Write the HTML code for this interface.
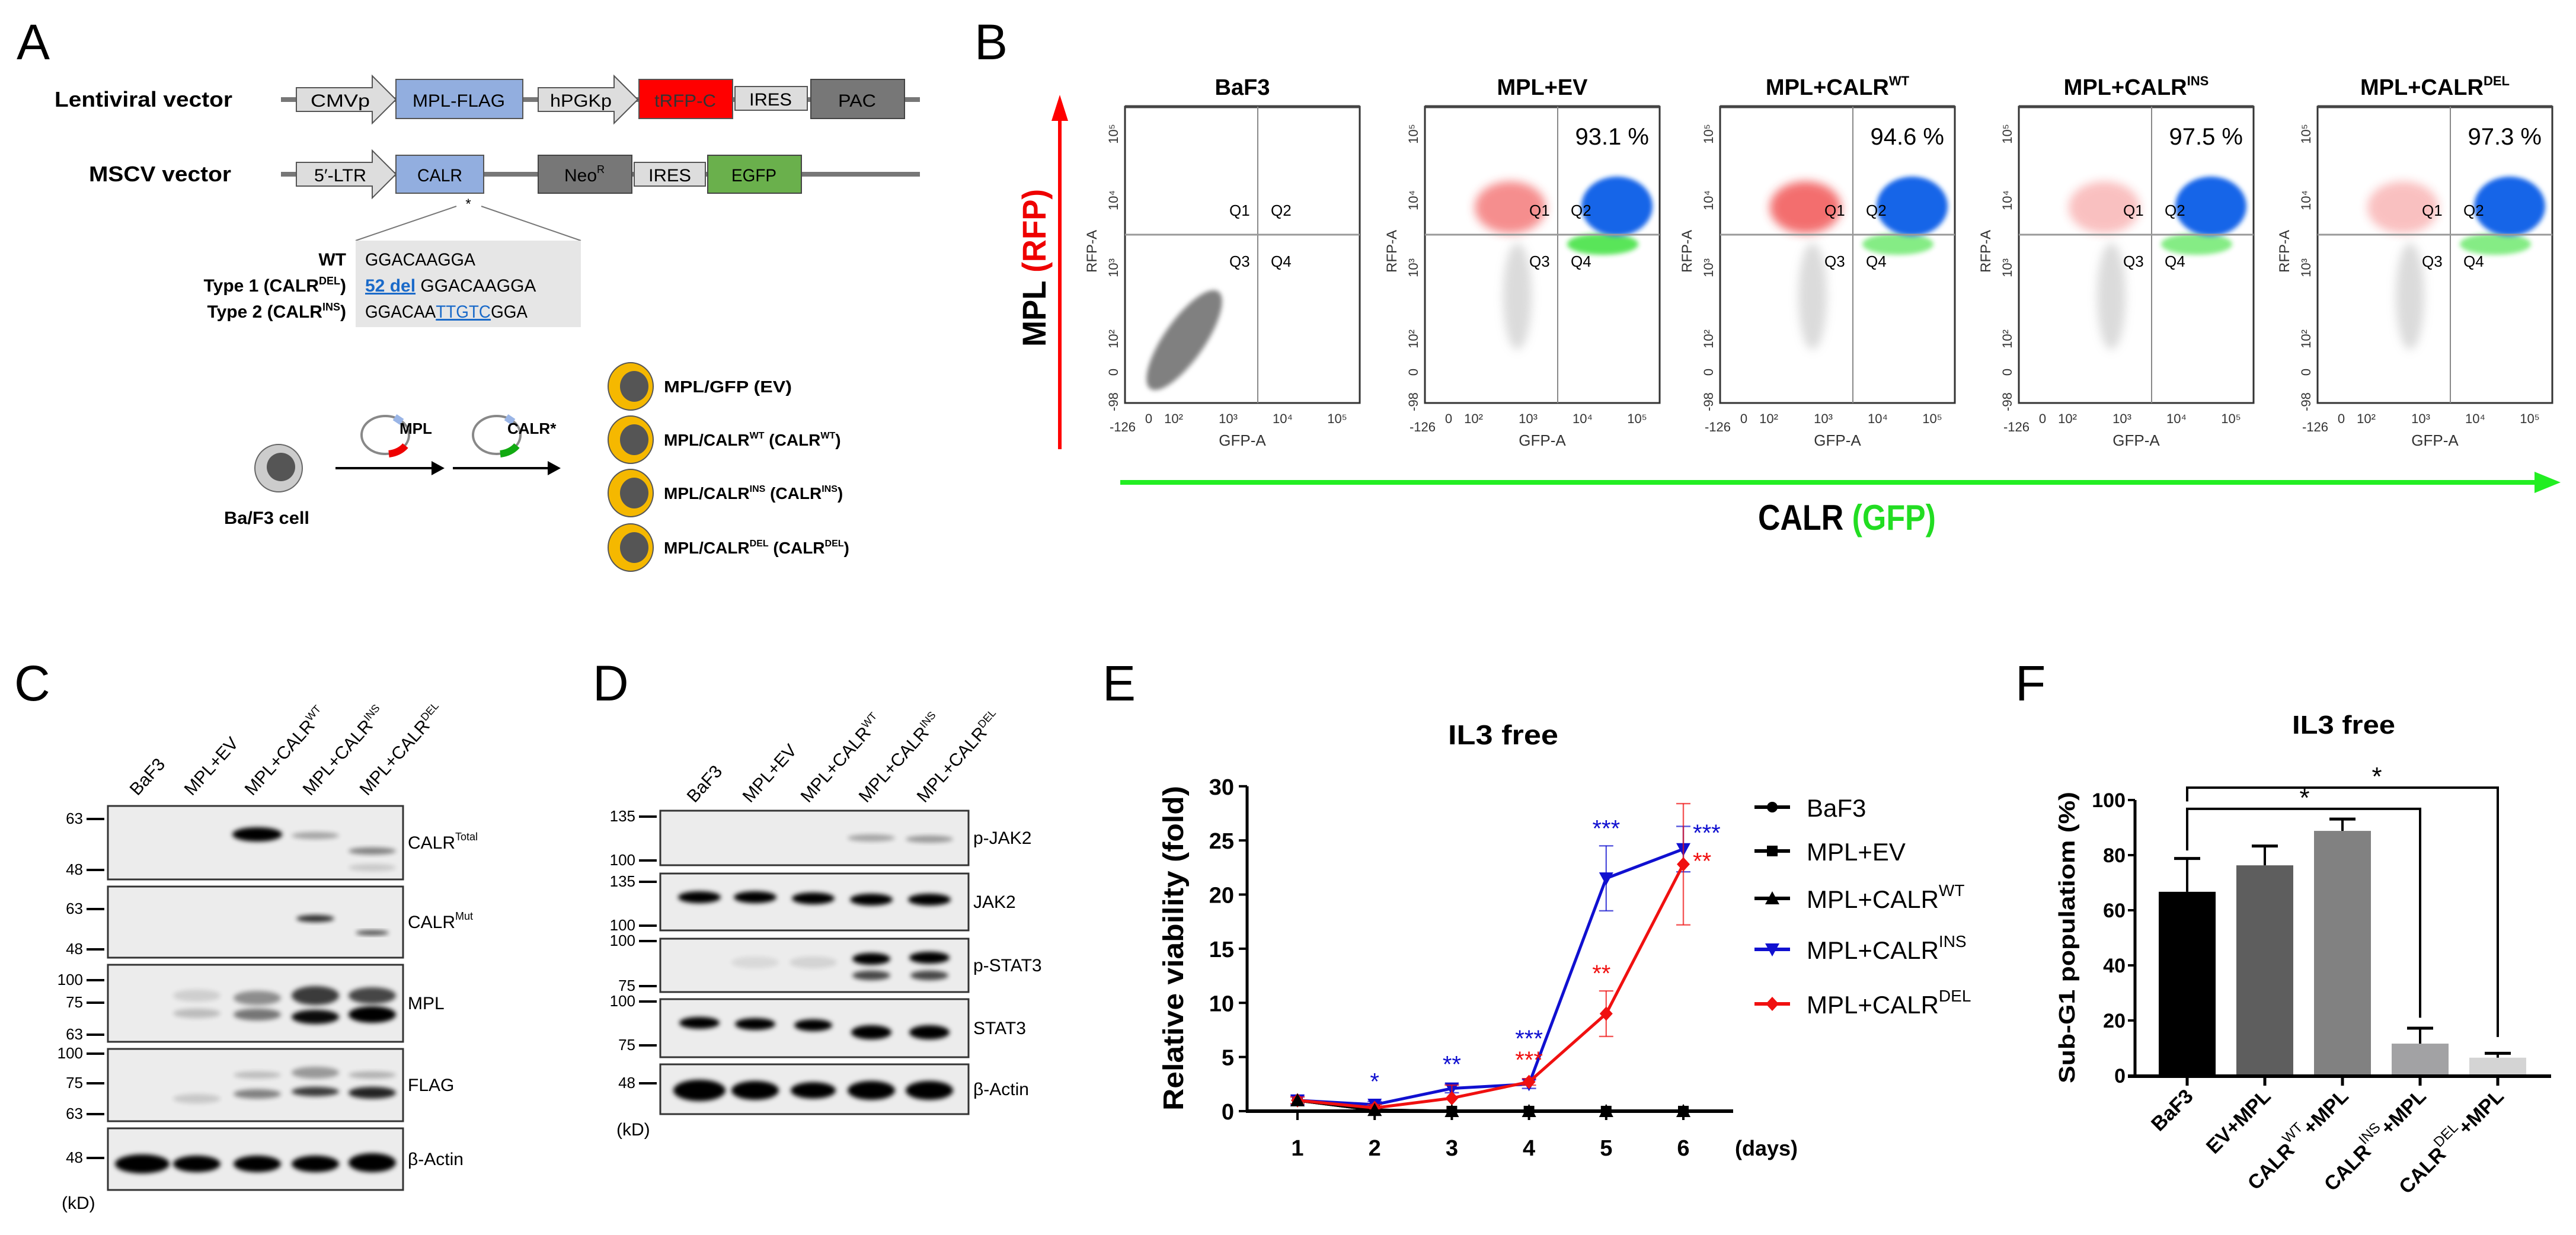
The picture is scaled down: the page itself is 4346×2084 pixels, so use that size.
<!DOCTYPE html>
<html><head><meta charset="utf-8"><style>
html,body{margin:0;padding:0;background:#fff}
svg{display:block}
text{font-family:"Liberation Sans",sans-serif}
</style></head><body>
<svg id="fig" width="4346" height="2084" viewBox="0 0 2173 1042" xmlns="http://www.w3.org/2000/svg">
<defs>
<filter id="blur1" x="-50%" y="-50%" width="200%" height="200%"><feGaussianBlur stdDeviation="2"/></filter>
<filter id="blur2" x="-50%" y="-50%" width="200%" height="200%"><feGaussianBlur stdDeviation="4"/></filter>
</defs>

<!-- PANEL A -->
<g>
<text x="14" y="50" font-size="42">A</text>
<text x="46" y="90" font-size="18" font-weight="bold" textLength="150" lengthAdjust="spacingAndGlyphs">Lentiviral vector</text>
<text x="75" y="153" font-size="18" font-weight="bold" textLength="120" lengthAdjust="spacingAndGlyphs">MSCV vector</text>
<g font-size="15" text-anchor="middle">
<line x1="237" y1="84" x2="776" y2="84" stroke="#777" stroke-width="4"/>
<path d="M250,74 H314 V64 L334,84 L314,104 V94 H250z" fill="#ddd" stroke="#555"/><text x="287" y="90" textLength="50" lengthAdjust="spacingAndGlyphs">CMVp</text>
<rect x="334" y="67" width="107" height="33" fill="#92aedf" stroke="#555"/><text x="387" y="90" textLength="78" lengthAdjust="spacingAndGlyphs">MPL-FLAG</text>
<path d="M454,74 H518 V64 L538,84 L518,104 V94 H454z" fill="#ddd" stroke="#555"/><text x="490" y="90" textLength="52" lengthAdjust="spacingAndGlyphs">hPGKp</text>
<rect x="539" y="67" width="79" height="33" fill="#f00" stroke="#555"/><text x="578" y="90" fill="#333" textLength="52" lengthAdjust="spacingAndGlyphs">tRFP-C</text>
<rect x="620" y="73" width="61" height="20" fill="#ddd" stroke="#555"/><text x="650" y="89" textLength="36" lengthAdjust="spacingAndGlyphs">IRES</text>
<rect x="684" y="67" width="79" height="33" fill="#777" stroke="#444"/><text x="723" y="90" textLength="32" lengthAdjust="spacingAndGlyphs">PAC</text>
</g>
<g font-size="15" text-anchor="middle">
<line x1="237" y1="147" x2="776" y2="147" stroke="#777" stroke-width="4"/>
<path d="M250,137 H314 V127 L334,147 L314,167 V157 H250z" fill="#ddd" stroke="#555"/><text x="287" y="153" textLength="44" lengthAdjust="spacingAndGlyphs">5′-LTR</text>
<rect x="334" y="131" width="74" height="32" fill="#92aedf" stroke="#555"/><text x="371" y="153" textLength="38" lengthAdjust="spacingAndGlyphs">CALR</text>
<rect x="454" y="131" width="79" height="32" fill="#777" stroke="#444"/><text x="493" y="153">Neo<tspan font-size="9" dy="-7">R</tspan></text>
<rect x="535" y="137" width="60" height="20" fill="#ddd" stroke="#555"/><text x="565" y="153" textLength="36" lengthAdjust="spacingAndGlyphs">IRES</text>
<rect x="597" y="131" width="79" height="32" fill="#6ab04c" stroke="#444"/><text x="636" y="153" textLength="38" lengthAdjust="spacingAndGlyphs">EGFP</text>
<text x="395" y="176" font-size="12">*</text>
<line x1="385" y1="174" x2="300" y2="203" stroke="#777"/><line x1="406" y1="174" x2="490" y2="203" stroke="#777"/>
</g>
<g font-size="15">
<rect x="300" y="203" width="190" height="73" fill="#e6e6e6"/>
<text x="292" y="224" text-anchor="end" font-weight="bold">WT</text><text x="308" y="224" textLength="93" lengthAdjust="spacingAndGlyphs">GGACAAGGA</text>
<text x="292" y="246" text-anchor="end" font-weight="bold">Type 1 (CALR<tspan font-size="9" dy="-6">DEL</tspan><tspan dy="6">)</tspan></text>
<text x="308" y="246"><tspan fill="#1a6ac9" font-weight="bold" text-decoration="underline">52 del</tspan> GGACAAGGA</text>
<text x="292" y="268" text-anchor="end" font-weight="bold">Type 2 (CALR<tspan font-size="9" dy="-6">INS</tspan><tspan dy="6">)</tspan></text>
<text x="308" y="268" textLength="137" lengthAdjust="spacingAndGlyphs">GGACAA<tspan fill="#1a6ac9" text-decoration="underline">TTGTC</tspan>GGA</text>
</g>
<g>
<ellipse cx="235" cy="395" rx="20" ry="20" fill="#ccc" stroke="#666"/><ellipse cx="237" cy="394" rx="12" ry="12" fill="#555"/>
<text x="225" y="442" font-size="15" font-weight="bold" text-anchor="middle" textLength="72" lengthAdjust="spacingAndGlyphs">Ba/F3 cell</text>
<line x1="283" y1="395" x2="366" y2="395" stroke="#000" stroke-width="2"/><path d="M364,389 L375,395 L364,401z"/>
<line x1="382" y1="395" x2="464" y2="395" stroke="#000" stroke-width="2"/><path d="M462,389 L473,395 L462,401z"/>
<ellipse cx="325" cy="367" rx="20" ry="16" fill="none" stroke="#888" stroke-width="2"/><path d="M328,383 a20,16 0 0,0 14,-7" stroke="#e00" stroke-width="6" fill="none"/><path d="M333,352 l6,4" stroke="#9ab5e6" stroke-width="6"/>
<text x="337" y="366" font-size="13" font-weight="bold">MPL</text>
<ellipse cx="419" cy="367" rx="20" ry="16" fill="none" stroke="#888" stroke-width="2"/><path d="M422,383 a20,16 0 0,0 14,-7" stroke="#1a1" stroke-width="6" fill="none"/><path d="M427,352 l6,4" stroke="#9ab5e6" stroke-width="6"/>
<text x="428" y="366" font-size="13" font-weight="bold">CALR*</text>
</g>
<g font-size="14" font-weight="bold">
<g><ellipse cx="532" cy="326" rx="19" ry="20" fill="#f5b800" stroke="#555"/><ellipse cx="535" cy="326" rx="12" ry="13" fill="#555"/><text x="560" y="331" textLength="108" lengthAdjust="spacingAndGlyphs">MPL/GFP   (EV)</text></g>
<g><ellipse cx="532" cy="371" rx="19" ry="20" fill="#f5b800" stroke="#555"/><ellipse cx="535" cy="371" rx="12" ry="13" fill="#555"/><text x="560" y="376">MPL/CALR<tspan font-size="8" dy="-6">WT</tspan><tspan dy="6"> (CALR</tspan><tspan font-size="8" dy="-6">WT</tspan><tspan dy="6">)</tspan></text></g>
<g><ellipse cx="532" cy="416" rx="19" ry="20" fill="#f5b800" stroke="#555"/><ellipse cx="535" cy="416" rx="12" ry="13" fill="#555"/><text x="560" y="421">MPL/CALR<tspan font-size="8" dy="-6">INS</tspan><tspan dy="6"> (CALR</tspan><tspan font-size="8" dy="-6">INS</tspan><tspan dy="6">)</tspan></text></g>
<g><ellipse cx="532" cy="462" rx="19" ry="20" fill="#f5b800" stroke="#555"/><ellipse cx="535" cy="462" rx="12" ry="13" fill="#555"/><text x="560" y="467">MPL/CALR<tspan font-size="8" dy="-6">DEL</tspan><tspan dy="6"> (CALR</tspan><tspan font-size="8" dy="-6">DEL</tspan><tspan dy="6">)</tspan></text></g>
</g>
</g>

<!-- PANEL B -->
<g>
<text x="822" y="50" font-size="42">B</text>
<line x1="894" y1="379" x2="894" y2="100" stroke="#f00" stroke-width="3"/>
<path d="M887,102 L894,80 L901,102z" fill="#f00"/>
<text transform="translate(882,226) rotate(-90)" font-size="28" font-weight="bold" text-anchor="middle" textLength="133" lengthAdjust="spacingAndGlyphs">MPL <tspan fill="#e00">(RFP)</tspan></text>
<line x1="945" y1="407" x2="2140" y2="407" stroke="#2e2" stroke-width="4"/>
<path d="M2138,398 L2160,407 L2138,416z" fill="#2e2"/>
<text x="1558" y="447" font-size="30" font-weight="bold" text-anchor="middle" textLength="150" lengthAdjust="spacingAndGlyphs">CALR <tspan fill="#2d2">(GFP)</tspan></text>
<g id="flow"></g>
</g>

<!-- PANEL C -->
<g>
<text x="12" y="591" font-size="42">C</text>
<g id="blotC"></g>
</g>
<!-- PANEL D -->
<g>
<text x="500" y="591" font-size="42">D</text>
<g id="blotD"></g>
</g>

<!-- PANEL E -->
<g>
<text x="930" y="591" font-size="42">E</text>
<text x="1268" y="628" font-size="23" font-weight="bold" text-anchor="middle" textLength="93" lengthAdjust="spacingAndGlyphs">IL3 free</text>
<text transform="translate(998,800) rotate(-90)" font-size="24" font-weight="bold" text-anchor="middle" textLength="274" lengthAdjust="spacingAndGlyphs">Relative viability (fold)</text>
<g id="chartE"></g>
</g>

<!-- PANEL F -->
<g>
<text x="1700" y="591" font-size="42">F</text>
<text x="1977" y="619" font-size="22" font-weight="bold" text-anchor="middle" textLength="87" lengthAdjust="spacingAndGlyphs">IL3 free</text>
<text transform="translate(1750,791) rotate(-90)" font-size="19" font-weight="bold" text-anchor="middle" textLength="246" lengthAdjust="spacingAndGlyphs">Sub-G1 populatiom (%)</text>
<g id="chartF"></g>
</g>
</svg>
<script>
const NS="http://www.w3.org/2000/svg";
function mk(parent,tag,attrs,txt){const e=document.createElementNS(NS,tag);for(const k in attrs)e.setAttribute(k,attrs[k]);if(txt!==undefined)e.textContent=txt;parent.appendChild(e);return e;}

/* ---------- Panel B flow plots ---------- */
const flowTitles=["BaF3","MPL+EV","MPL+CALR","MPL+CALR","MPL+CALR"];
const flowSups=["","","WT","INS","DEL"];
const flowPct=["","93.1 %","94.6 %","97.5 %","97.3 %"];
const flowRedOpacity=[0,0.55,0.7,0.3,0.3];
const flowLeft=[949,1202,1451,1703,1955];
const flow=document.getElementById('flow');
flowLeft.forEach((x0,i)=>{
  const g=mk(flow,'g',{});
  
  
  const w=198,y0=90,h=250,qx=x0+112,qy=198;
  const t=mk(g,'text',{x:x0+w/2,y:80,'font-size':19,'font-weight':'bold','text-anchor':'middle'},flowTitles[i]);
  if(flowSups[i])mk(t,'tspan',{'font-size':11,dy:-8},flowSups[i]);
  if(i==0){
    mk(g,'ellipse',{cx:x0+50,cy:287,rx:50,ry:17,transform:`rotate(-55 ${x0+50} 287)`,fill:'#808080',filter:'url(#blur1)'});
  } else {
    mk(g,'ellipse',{cx:x0+72,cy:175,rx:30,ry:22,fill:'#e33',filter:'url(#blur2)',opacity:flowRedOpacity[i]});
    mk(g,'ellipse',{cx:x0+78,cy:250,rx:12,ry:45,fill:'#999',filter:'url(#blur2)',opacity:0.35});
    mk(g,'ellipse',{cx:x0+150,cy:206,rx:30,ry:9,fill:'#2d2',filter:'url(#blur1)',opacity:i==1?0.75:0.55});
    mk(g,'ellipse',{cx:x0+162,cy:174,rx:30,ry:25,fill:'#1565e8',filter:'url(#blur1)'});
    mk(g,'text',{x:x0+189,y:122,'font-size':20,'text-anchor':'end'},flowPct[i]);
  }
  mk(g,'rect',{x:x0,y:y0,width:w,height:h,fill:'none',stroke:'#333','stroke-width':1.5});
  mk(g,'line',{x1:x0,y1:y0,x2:x0+w,y2:y0,stroke:'#444','stroke-width':2.5});
  mk(g,'line',{x1:qx,y1:y0,x2:qx,y2:y0+h,stroke:'#888','stroke-width':1});
  mk(g,'line',{x1:x0,y1:qy,x2:x0+w,y2:qy,stroke:'#999','stroke-width':1.5});
  [['Q1',x0+88,182],['Q2',x0+123,182],['Q3',x0+88,225],['Q4',x0+123,225]].forEach(q=>mk(g,'text',{x:q[1],y:q[2],'font-size':13},q[0]));
  mk(g,'text',{transform:`translate(${x0-24},212) rotate(-90)`,'font-size':12,'text-anchor':'middle',fill:'#333'},'RFP-A');
  [['10⁵',113],['10⁴',169],['10³',226],['10²',286],['0',314],['-98',339]].forEach(t=>mk(g,'text',{transform:`translate(${x0-6},${t[1]}) rotate(-90)`,'font-size':11,'text-anchor':'middle',fill:'#333'},t[0]));
  [['-126',-2,364],['0',20,357],['10²',41,357],['10³',87,357],['10⁴',133,357],['10⁵',179,357]].forEach(t=>mk(g,'text',{x:x0+t[1],y:t[2],'font-size':11,'text-anchor':'middle',fill:'#333'},t[0]));
  mk(g,'text',{x:x0+99,y:376,'font-size':13,'text-anchor':'middle',fill:'#333'},'GFP-A');
});

/* ---------- Western blots ---------- */
function blot(gid,x0,x1,lanesX,labelY,rows,mwLabels,kd){
  const g=document.getElementById(gid);
  lanesX.forEach((lx,i)=>{
    const t=mk(g,'text',{transform:`translate(${lx-4},${labelY}) rotate(-48)`,'font-size':15},laneNames[i][0]);
    
    
    if(laneNames[i][1])mk(t,'tspan',{'font-size':9,dy:-6},laneNames[i][1]);
  });
  rows.forEach(r=>{
    const rg=mk(g,'g',{});
    
    
    mk(rg,'rect',{x:x0,y:r.y,width:x1-x0,height:r.h,fill:'#ececec'});
    r.bands.forEach(b=>{
      mk(rg,'ellipse',{cx:lanesX[b[0]],cy:r.y+b[1],rx:b[4]||20,ry:b[2],fill:'#000',opacity:b[3],filter:'url(#blur1)'});
    });
    mk(rg,'rect',{x:x0,y:r.y,width:x1-x0,height:r.h,fill:'none',stroke:'#333','stroke-width':1.5});
    const t=mk(rg,'text',{x:x1+4,y:r.y+r.h/2+5,'font-size':15},r.name);
    if(r.sup)mk(t,'tspan',{'font-size':9,dy:-7},r.sup);
  });
  mwLabels.forEach(m=>{mk(g,'text',{x:x0-21,y:m[1]+4,'font-size':13,'text-anchor':'end'},m[0]);mk(g,'line',{x1:x0-18,y1:m[1],x2:x0-3,y2:m[1],stroke:'#000','stroke-width':2});});
  mk(g,'text',{x:kd[0],y:kd[1],'font-size':15},'(kD)');
}
const laneNames=[["BaF3",""],["MPL+EV",""],["MPL+CALR","WT"],["MPL+CALR","INS"],["MPL+CALR","DEL"]];
blot('blotC',91,340,[120,166,217,266,314],672,[
 {name:'CALR',sup:'Total',y:680,h:62,bands:[[2,24,6,1,21],[3,25,3,0.3],[4,38,3,0.45],[4,52,3,0.15]]},
 {name:'CALR',sup:'Mut',y:748,h:60,bands:[[3,27,3,0.8,16],[4,39,2,0.7,14]]},
 {name:'MPL',sup:'',y:814,h:65,bands:[[1,26,5,0.12],[1,41,4,0.2],[2,28,6,0.4],[2,42,5,0.5],[3,26,8,0.75],[3,44,6,0.95],[4,26,7,0.7],[4,42,7,1]]},
 {name:'FLAG',sup:'',y:885,h:61,bands:[[1,42,4,0.15],[2,22,3,0.2],[2,38,4,0.45],[3,20,5,0.35],[3,36,4,0.75],[4,22,3,0.25],[4,37,5,0.85]]},
 {name:'β-Actin',sup:'',y:952,h:52,bands:[[0,30,8,1,23],[1,30,7,1,20],[2,30,7,1,20],[3,30,7,1,20],[4,29,8,1,20]]}
],[['63',691],['48',734],['63',767],['48',801],['100',827],['75',846],['63',873],['100',889],['75',914],['63',940],['48',977]],[52,1020]);
blot('blotD',557,817,[590,637,686,735,784],678,[
 {name:'p-JAK2',sup:'',y:684,h:46,bands:[[3,23,3,0.3],[4,24,3,0.35]]},
 {name:'JAK2',sup:'',y:737,h:48,bands:[[0,20,5,1,18],[1,20,5,1,18],[2,21,5,1,18],[3,22,5,1,18],[4,22,5,1,18]]},
 {name:'p-STAT3',sup:'',y:792,h:45,bands:[[1,20,5,0.08],[2,20,5,0.1],[3,17,5,1,16],[3,31,4,0.7,16],[4,16,5,1,17],[4,31,4,0.7,16]]},
 {name:'STAT3',sup:'',y:843,h:49,bands:[[0,20,5,1,17],[1,21,5,1,17],[2,22,5,1,16],[3,28,6,1,17],[4,28,6,1,17]]},
 {name:'β-Actin',sup:'',y:898,h:42,bands:[[0,22,9,1,22],[1,22,8,1,20],[2,22,7,1,19],[3,22,8,1,20],[4,22,8,1,20]]}
],[['135',689],['100',726],['135',744],['100',781],['100',794],['75',832],['100',845],['75',882],['48',914]],[520,958]);

/* ---------- Panel E line chart ---------- */
const days=[1,2,3,4,5,6];
const baf3=[1.0,0.1,0.0,0.0,0.0,0.0];
const mplEv=[1.0,0.1,0.0,0.0,0.0,0.0];
const calrWt=[1.0,0.1,0.0,0.0,0.0,0.0];
const calrIns=[1.0,0.6,2.1,2.5,21.5,24.2];
const calrInsErr=[0.4,0.3,0.4,0.4,3.0,2.1];
const calrDel=[1.0,0.3,1.2,2.7,9.0,22.8];
const calrDelErr=[0.3,0.3,1.2,0.3,2.1,5.6];
const yTicksE=[0,5,10,15,20,25,30];
const insStars=["","*","**","***","***","***"];
const delStars=["","","","***","**","**"];
const eg=document.getElementById('chartE');
const ex=d=>1094.5+65.1*(d-1), ey=v=>937.5-v*9.137;
yTicksE.forEach(v=>{mk(eg,'line',{x1:1045,y1:ey(v),x2:1052,y2:ey(v),stroke:'#000','stroke-width':2});mk(eg,'text',{x:1041,y:ey(v)+7,'font-size':19,'font-weight':'bold','text-anchor':'end'},v);});
days.forEach(d=>{mk(eg,'line',{x1:ex(d),y1:937,x2:ex(d),y2:945,stroke:'#000','stroke-width':2});mk(eg,'text',{x:ex(d),y:975,'font-size':19,'font-weight':'bold','text-anchor':'middle'},d);});
mk(eg,'text',{x:1490,y:975,'font-size':18,'font-weight':'bold','text-anchor':'middle'},'(days)');
function series(vals,err,color,marker,name){
  const g=mk(eg,'g',{});
  
  
  if(err)vals.forEach((v,i)=>{const x=ex(days[i]);const hi=v+err[i],lo=Math.max(0,v-err[i]);mk(g,'line',{x1:x,y1:ey(hi),x2:x,y2:ey(lo),stroke:color,'stroke-width':1.2,opacity:0.7});[hi,lo].forEach(e=>mk(g,'line',{x1:x-6,y1:ey(e),x2:x+6,y2:ey(e),stroke:color,'stroke-width':1.2,opacity:0.7}));});
  mk(g,'polyline',{points:vals.map((v,i)=>ex(days[i])+','+ey(v)).join(' '),fill:'none',stroke:color,'stroke-width':2.5});
  vals.forEach((v,i)=>drawMarker(g,ex(days[i]),ey(v),marker,color));
}
function drawMarker(g,x,y,m,c){
  if(m=='circle')mk(g,'circle',{cx:x,cy:y,r:4.5,fill:c});
  else if(m=='square')mk(g,'rect',{x:x-4.5,y:y-4.5,width:9,height:9,fill:c});
  else if(m=='tri')mk(g,'path',{d:`M${x-6},${y+5}L${x},${y-6}L${x+6},${y+5}z`,fill:c});
  else if(m=='inv')mk(g,'path',{d:`M${x-6},${y-5}L${x+6},${y-5}L${x},${y+6}z`,fill:c});
  else mk(g,'path',{d:`M${x},${y-6}L${x+5.5},${y}L${x},${y+6}L${x-5.5},${y}z`,fill:c});
}
series(baf3,null,'#000','circle','baf3');
series(mplEv,null,'#000','square','mpl-ev');
series(calrWt,null,'#000','tri','mpl-calr-wt');
series(calrIns,calrInsErr,'#1010d0','inv','mpl-calr-ins');
series(calrDel,calrDelErr,'#f01010','diamond','mpl-calr-del');
mk(eg,'line',{x1:1052,y1:ey(30),x2:1052,y2:938.5,stroke:'#000','stroke-width':2.5});
mk(eg,'line',{x1:1051,y1:937.5,x2:1462,y2:937.5,stroke:'#000','stroke-width':3});
days.forEach((d,i)=>drawMarker(eg,ex(d),ey(calrWt[i]),'tri','#000'));
days.forEach((d,i)=>{
  const x=ex(d);
  if(i<4){
    const top=ey(Math.max(calrIns[i]+calrInsErr[i],calrDel[i]+calrDelErr[i]));
    if(insStars[i])mk(eg,'text',{x:x,y:top-(delStars[i]?27:10),'font-size':20,fill:'#1010d0','text-anchor':'middle'},insStars[i]);
    if(delStars[i])mk(eg,'text',{x:x,y:top-9,'font-size':20,fill:'#f01010','text-anchor':'middle'},delStars[i]);
  } else if(i==4){
    mk(eg,'text',{x:x,y:ey(calrIns[i]+calrInsErr[i])-8,'font-size':20,fill:'#1010d0','text-anchor':'middle'},insStars[i]);
    mk(eg,'text',{x:x-4,y:ey(calrDel[i]+calrDelErr[i])-8,'font-size':20,fill:'#f01010','text-anchor':'middle'},delStars[i]);
  } else {
    mk(eg,'text',{x:x+8,y:ey(calrIns[i])-7,'font-size':20,fill:'#1010d0'},insStars[i]);
    mk(eg,'text',{x:x+8,y:ey(calrDel[i])+4,'font-size':20,fill:'#f01010'},delStars[i]);
  }
});
const legNames=[["BaF3",""],["MPL+EV",""],["MPL+CALR","WT"],["MPL+CALR","INS"],["MPL+CALR","DEL"]];
const legMarkers=['circle','square','tri','inv','diamond'];
const legColors=['#000','#000','#000','#1010d0','#f01010'];
const legY=[681,718,758,801,847];
legNames.forEach((l,i)=>{
  const g=mk(eg,'g',{});
  
  
  mk(g,'line',{x1:1480,y1:legY[i],x2:1510,y2:legY[i],stroke:legColors[i],'stroke-width':3});
  drawMarker(g,1495,legY[i],legMarkers[i],legColors[i]);
  const t=mk(g,'text',{x:1524,y:legY[i]+8,'font-size':21},l[0]);
  if(l[1])mk(t,'tspan',{'font-size':14,dy:-10},l[1]);
});

/* ---------- Panel F bar chart ---------- */
const fCats=[["BaF3",""],["EV+MPL",""],["CALR","WT","+MPL"],["CALR","INS","+MPL"],["CALR","DEL","+MPL"]];
const fVals=[66.7,76.3,88.8,11.6,6.5];
const fErr=[12.1,7.0,4.3,5.6,1.6];
const fTicks=[0,20,40,60,80,100];
const fColors=['#000','#5e5e5e','#818181','#a2a2a4','#d4d4d4'];
const fg=document.getElementById('chartF');
const fx=i=>1845+i*65.5, fy=v=>907.5-v*2.325;
fVals.forEach((v,i)=>{
  const g=mk(fg,'g',{});
  
  
  mk(g,'rect',{x:fx(i)-24,y:fy(v),width:48,height:907.5-fy(v),fill:fColors[i]});
  mk(g,'line',{x1:fx(i),y1:fy(v),x2:fx(i),y2:fy(v+fErr[i]),stroke:'#000','stroke-width':2});
  mk(g,'line',{x1:fx(i)-11,y1:fy(v+fErr[i]),x2:fx(i)+11,y2:fy(v+fErr[i]),stroke:'#000','stroke-width':2.5});
});
mk(fg,'line',{x1:1801,y1:fy(100),x2:1801,y2:909,stroke:'#000','stroke-width':2.5});
mk(fg,'line',{x1:1795,y1:908,x2:2152,y2:908,stroke:'#000','stroke-width':3});
fTicks.forEach(v=>{mk(fg,'line',{x1:1795,y1:fy(v),x2:1801,y2:fy(v),stroke:'#000','stroke-width':2});mk(fg,'text',{x:1793,y:fy(v)+6,'font-size':17,'font-weight':'bold','text-anchor':'end'},v);});
fCats.forEach((c,i)=>{
  mk(fg,'line',{x1:fx(i),y1:908,x2:fx(i),y2:916,stroke:'#000','stroke-width':2.5});
  const t=mk(fg,'text',{transform:`translate(${fx(i)+6},${926}) rotate(-45)`,'font-size':17,'font-weight':'bold','text-anchor':'end'},c[0]);
  
  
  if(c[1]){mk(t,'tspan',{'font-size':12,'font-weight':'normal',dy:-9},c[1]);mk(t,'tspan',{dy:9},c[2]);}
});
/* significance brackets */
mk(fg,'path',{d:`M${fx(0)},${fy(81.7)} V${fy(96.8)} H${fx(3)} V${fy(21)}`,fill:'none',stroke:'#000','stroke-width':2});
mk(fg,'path',{d:`M${fx(0)},${fy(99.5)} V${fy(104.5)} H${fx(4)} V${fy(14)}`,fill:'none',stroke:'#000','stroke-width':2});
mk(fg,'text',{x:1944,y:fy(96.8)-2,'font-size':22,'text-anchor':'middle'},'*');
mk(fg,'text',{x:2005,y:fy(104.5)-2,'font-size':22,'text-anchor':'middle'},'*');
</script>
</body></html>
